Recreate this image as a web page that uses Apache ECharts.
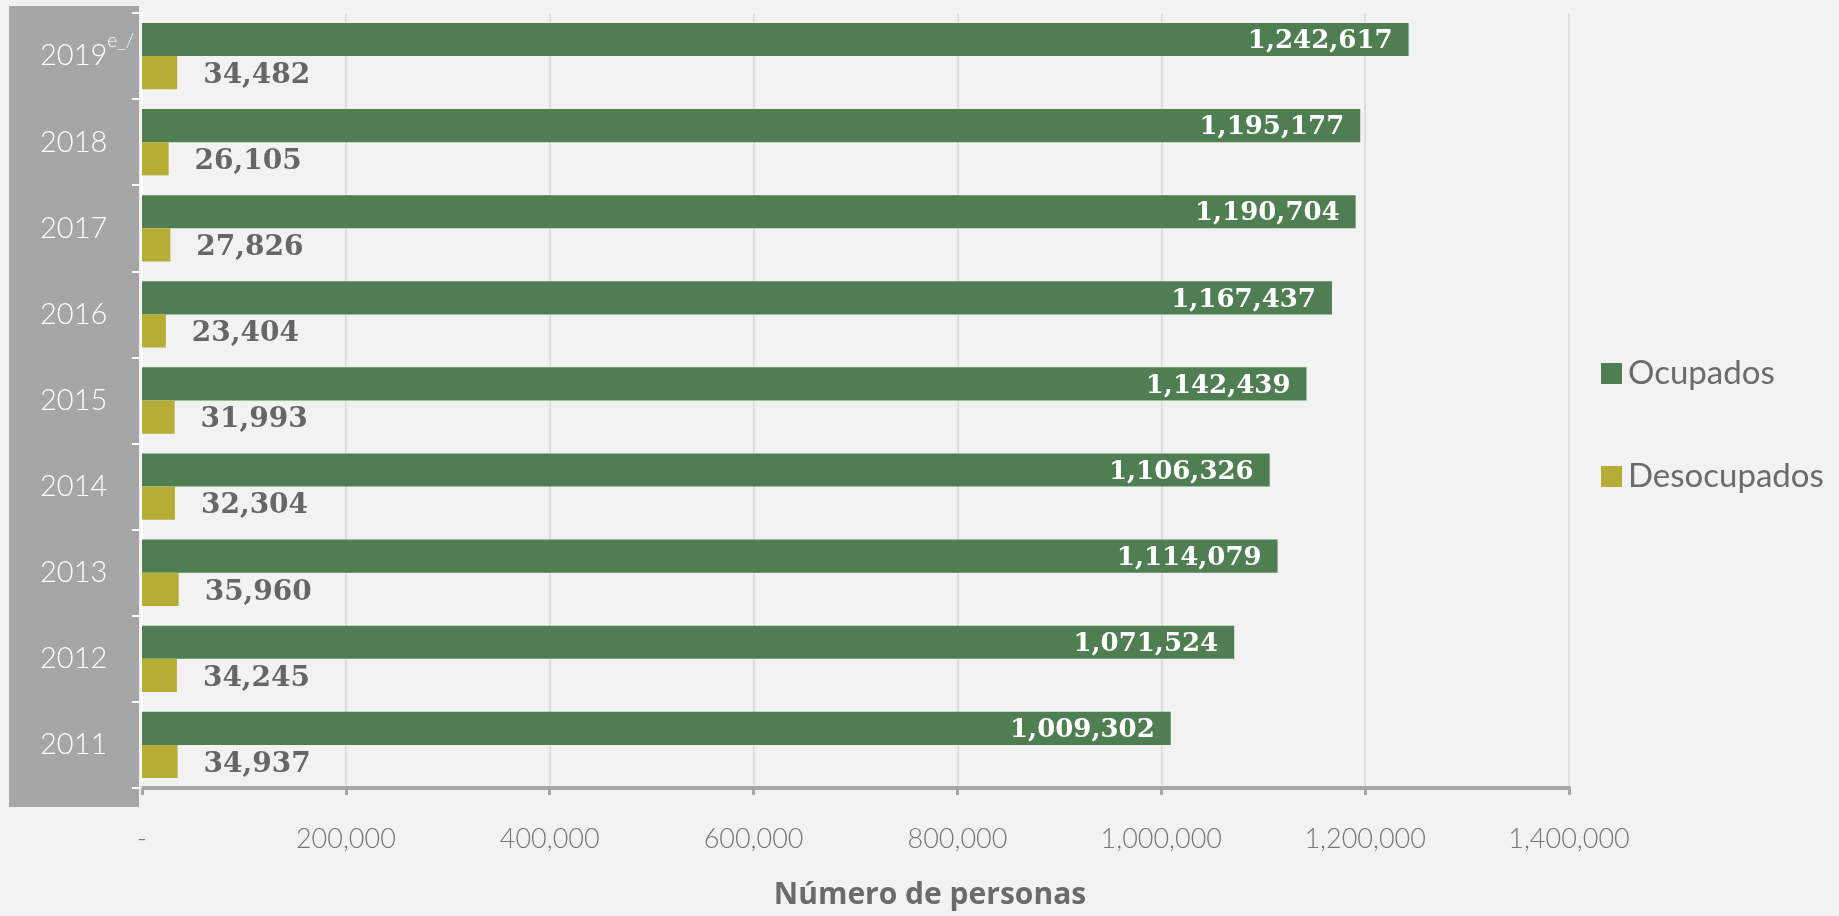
<!DOCTYPE html>
<html>
<head>
<meta charset="utf-8">
<script src="https://cdn.jsdelivr.net/npm/echarts@6/dist/echarts.min.js"></script>
<style>
html,body{margin:0;padding:0;background:#f2f2f2;}
#chart{width:1839px;height:916px;}
</style>
</head>
<body>
<div id="chart"></div>
<script>
const years = ['2011','2012','2013','2014','2015','2016','2017','2018','2019'];
const yearNotes = ['', '', '', '', '', '', '', '', 'e_/'];
const ocupados = [1009302, 1071524, 1114079, 1106326, 1142439, 1167437, 1190704, 1195177, 1242617];
const desocupados = [34937, 34245, 35960, 32304, 31993, 23404, 27826, 26105, 34482];
const seriesNames = ['Ocupados', 'Desocupados'];
const xTicks = { min: 0, max: 1400000, interval: 200000 };
const axisTitle = 'Número de personas';

function fmt(v) { return String(v).replace(/\B(?=(\d{3})+(?!\d))/g, ','); }

const chart = echarts.init(document.getElementById('chart'), null, { renderer: 'canvas' });
const valFont = '"DejaVu Serif", serif';
const sansFont = 'Lato, "Open Sans", sans-serif';

chart.setOption({
  backgroundColor: '#f2f2f2',
  animation: false,
  graphic: [
    { type: 'rect', z: -10, shape: { x: 9, y: 6, width: 130, height: 801 }, style: { fill: '#a6a6a6' } },
    { type: 'text', z: 10, style: { x: 930, y: 895, text: axisTitle, textAlign: 'center', textVerticalAlign: 'middle',
      fill: '#6b6b6b', font: 'bold 30px "Open Sans", sans-serif' } }
  ],
  grid: { left: 142, right: 270, top: 13, bottom: 128 },
  legend: {
    orient: 'vertical', left: 1596, top: 352, itemWidth: 21, itemHeight: 21, itemGap: 70,
    icon: 'rect', data: seriesNames,
    textStyle: { color: '#6b6b6b', fontFamily: sansFont, fontSize: 33, padding: [0,0,0,1] }
  },
  xAxis: {
    type: 'value', min: xTicks.min, max: xTicks.max, interval: xTicks.interval,
    axisLine: { show: true, lineStyle: { color: '#a6a6a6', width: 4 } },
    axisTick: { show: true, length: 7, lineStyle: { color: '#a6a6a6', width: 3 } },
    splitLine: { show: true, lineStyle: { color: '#d9d9d9', width: 1.5 } },
    axisLabel: { margin: 38, color: '#767676', fontFamily: sansFont, fontSize: 27, fontWeight: 300,
      formatter: v => v === 0 ? '-' : fmt(v) }
  },
  yAxis: {
    type: 'category', data: years,
    axisLine: { show: true, lineStyle: { color: '#ffffff', width: 2 } },
    axisTick: { show: true, length: 10, lineStyle: { color: '#ffffff', width: 2 } },
    axisLabel: {
      align: 'left', margin: 102, color: '#ffffff',
      formatter: (v, i) => yearNotes[i] ? '{y|' + v + '}{sup|' + yearNotes[i] + '}' : '{y|' + v + '}',
      rich: {
        y: { fontFamily: sansFont, fontSize: 29, fontWeight: 300, color: '#ffffff', lineHeight: 50 },
        sup: { fontFamily: sansFont, fontSize: 19, fontWeight: 300, color: '#ffffff', verticalAlign: 'top', lineHeight: 10 }
      }
    }
  },
  series: [
    {
      name: seriesNames[0], type: 'bar', data: ocupados, barGap: '0%', barCategoryGap: '23%',
      itemStyle: { color: '#507e53' },
      label: { show: true, position: 'insideRight', distance: 16, offset: [0, 2], color: '#ffffff',
        fontFamily: valFont, fontWeight: 'bold', fontSize: 26, formatter: p => fmt(p.value) }
    },
    {
      name: seriesNames[1], type: 'bar', data: desocupados, barGap: '0%', barCategoryGap: '23%',
      itemStyle: { color: '#b5ad36' },
      label: { show: true, position: 'right', distance: 26, offset: [0, 3], color: '#666666',
        fontFamily: valFont, fontWeight: 'bold', fontSize: 28, formatter: p => fmt(p.value) }
    }
  ]
});
</script>
</body>
</html>
